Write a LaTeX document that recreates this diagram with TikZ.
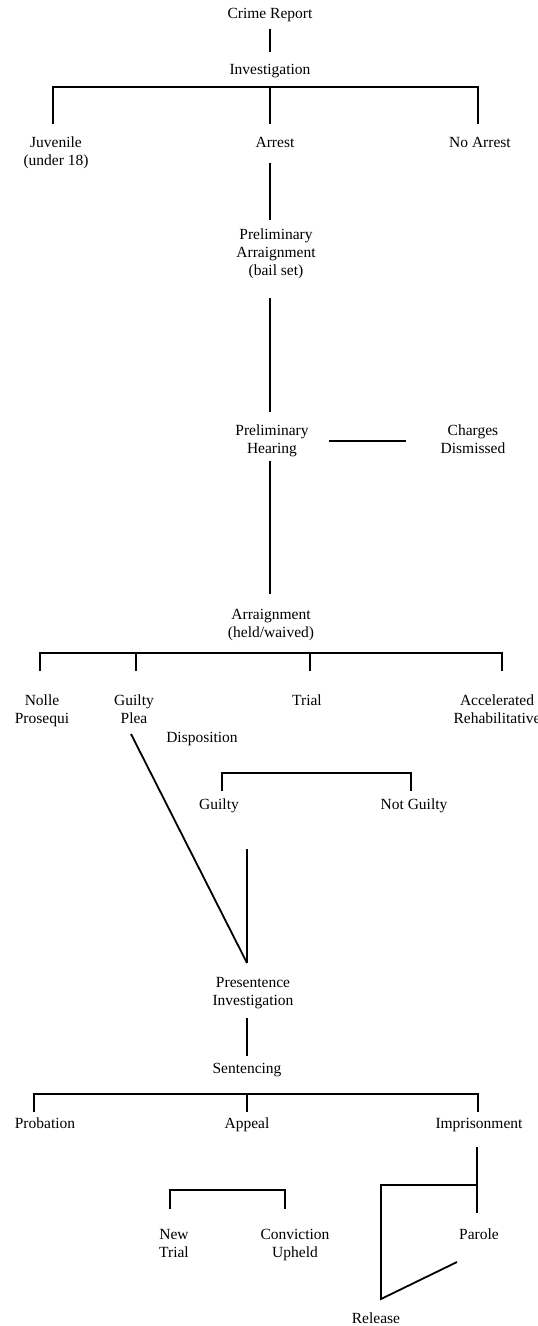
\documentclass[tikz,border=0pt]{standalone}
\usepackage{fontspec}
\setmainfont{Liberation Serif}
\begin{document}
\begin{tikzpicture}[x=1pt,y=-1pt,
  lbl/.style={align=center, inner sep=0pt, anchor=north, yshift=7.4pt,
              font=\fontsize{15.5}{18}\selectfont},
  conn/.style={line width=1.8pt, line join=miter}]
\useasboundingbox (0,0) rectangle (538,1326);

% ---- labels ----
\node[lbl] (cr)    at (270,13)   {\strut Crime Report};
\node[lbl] (inv)   at (270,69.5) {\strut Investigation};
\node[lbl] (juv)   at (56,142)   {\strut Juvenile\\(under 18)};
\node[lbl] (arr)   at (275,142)  {\strut Arrest};
\node[lbl] (noarr) at (480,142)  {\strut No Arrest};
\node[lbl] (parr)  at (276,234)  {\strut Preliminary\\Arraignment\\(bail set)};
\node[lbl] (ph)    at (272,430)  {\strut Preliminary\\Hearing};
\node[lbl] (cd)    at (473,430)  {\strut Charges\\Dismissed};
\node[lbl] (arg)   at (271,614)  {\strut Arraignment\\(held/waived)};
\node[lbl] (np)    at (42,700)   {\strut Nolle\\Prosequi};
\node[lbl] (gp)    at (134,700)  {\strut Guilty\\Plea};
\node[lbl] (trial) at (307,700)  {\strut Trial};
\node[lbl] (ar)    at (497,700)  {\strut Accelerated\\Rehabilitative};
\node[lbl] (disp)  at (202,737)  {\strut Disposition};
\node[lbl] (g)     at (219,804)  {\strut Guilty};
\node[lbl] (ng)    at (414,804)  {\strut Not Guilty};
\node[lbl] (psi)   at (253,982)  {\strut Presentence\\Investigation};
\node[lbl] (sent)  at (247,1068) {\strut Sentencing};
\node[lbl] (prob)  at (45,1123)  {\strut Probation};
\node[lbl] (app)   at (247,1123) {\strut Appeal};
\node[lbl] (imp)   at (479,1123) {\strut Imprisonment};
\node[lbl] (nt)    at (174,1234) {\strut New\\Trial};
\node[lbl] (cu)    at (295,1234) {\strut Conviction\\Upheld};
\node[lbl] (par)   at (479,1234) {\strut Parole};
\node[lbl] (rel)   at (376,1318) {\strut Release};

% ---- connector end points ----
\coordinate (crB)   at (270,29);
\coordinate (invT)  at (270,52);
\coordinate (invB)  at (270,87);
\coordinate (juvT)  at (53,124);
\coordinate (arrT)  at (270,124);
\coordinate (noT)   at (478,124);
\coordinate (arrB)  at (270,163);
\coordinate (parrT) at (270,220);
\coordinate (parrB) at (270,298);
\coordinate (phT)   at (270,412);
\coordinate (phR)   at (329,441);
\coordinate (cdL)   at (406,441);
\coordinate (phB)   at (270,461);
\coordinate (argT)  at (270,594);
\coordinate (npT)   at (40,671);
\coordinate (gpT)   at (136,671);
\coordinate (trT)   at (310,671);
\coordinate (arT)   at (502,671);
\coordinate (gpB)   at (131,734);
\coordinate (gT)    at (222,791);
\coordinate (ngT)   at (411,791);
\coordinate (gB)    at (247,849);
\coordinate (psiT)  at (247,963);
\coordinate (psiB)  at (247,1018);
\coordinate (sentT) at (247,1056);
\coordinate (probT) at (34,1112);
\coordinate (appT)  at (247,1112);
\coordinate (impT)  at (478,1112);
\coordinate (ntT)   at (170,1209);
\coordinate (cuT)   at (285,1209);
\coordinate (impB)  at (477,1147);
\coordinate (parT)  at (477,1213);
\coordinate (relJ)  at (381,1185);
\coordinate (relB)  at (381,1299);
\coordinate (parB)  at (457,1262);

% ---- connectors ----
\draw[conn] (crB) -- (invT);
\draw[conn] (juvT) -- (juvT |- invB) -- (noT |- invB) -- (noT);
\draw[conn] (arrT) -- (arrT |- invB);
\draw[conn] (arrB) -- (parrT);
\draw[conn] (parrB) -- (phT);
\draw[conn] (phR) -- (cdL);
\draw[conn] (phB) -- (argT);
\draw[conn] (npT) -- ++(0,-18) -| (arT);
\draw[conn] (gpT) -- ++(0,-18);
\draw[conn] (trT) -- ++(0,-18);
\draw[conn] (gpB) -- (psiT);
\draw[conn] (gT) -- ++(0,-18) -| (ngT);
\draw[conn] (gB) -- (psiT);
\draw[conn] (psiB) -- (sentT);
\draw[conn] (probT) -- ++(0,-18) -| (impT);
\draw[conn] (appT) -- ++(0,-18);
\draw[conn] (ntT) -- ++(0,-19) -| (cuT);
\draw[conn] (impB) -- (parT);
\draw[conn] (impB |- relJ) -- (relJ) -- (relB) -- (parB);
\end{tikzpicture}
\end{document}
